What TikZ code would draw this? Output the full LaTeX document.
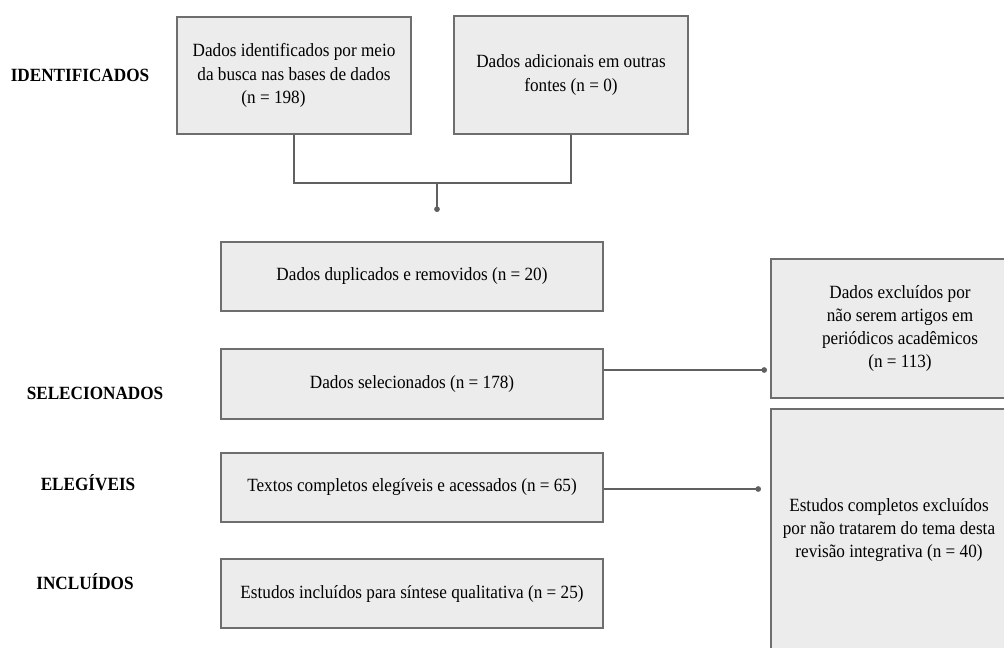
\documentclass[tikz,border=0pt]{standalone}
\usepackage{fontspec}
\setmainfont{Liberation Serif}[FakeStretch=0.92]
\usepackage{tikz}
\usetikzlibrary{arrows.meta,positioning}
\definecolor{boxfill}{HTML}{ECECEC}
\definecolor{boxline}{HTML}{6E6E6E}
\definecolor{linkline}{HTML}{606060}
\tikzset{stage/.style={draw=boxline, line width=1pt, fill=boxfill, align=center, inner sep=2pt,
    font=\fontsize{14}{17.5}\selectfont},
  phase/.style={font=\fontsize{14}{17.5}\selectfont\bfseries},
  link/.style={draw=linkline, line width=0.8pt},
  dotend/.style={-{Circle[length=4.2pt]}}}

\begin{document}
\begin{tikzpicture}[x=0.75pt,y=-0.75pt]
      \useasboundingbox (0,0) rectangle (1004,648);
      \node [phase] (ident) at (80,75) {IDENTIFICADOS};
      \node [phase] (selec) at (95,393) {SELECIONADOS};
      \node [phase] (eleg) at (88,483) {ELEGÍVEIS};
      \node [phase] (incl) at (85,582) {INCLUÍDOS};

      \node [stage, minimum width=175.5pt, minimum height=87.75pt] (busca) at (294,75.5) {Dados identificados por meio\\da busca nas bases de dados\\(n = 198)\hspace*{2.2em}};
      \node [stage, minimum width=175.5pt, minimum height=88.5pt] (outras) at (571,75) {Dados adicionais em outras\\fontes (n = 0)};
      \node [stage, minimum width=286.5pt, minimum height=51.75pt] (dupl) at (412,276.5) {Dados duplicados e removidos (n = 20)};
      \node [stage, minimum width=286.5pt, minimum height=52.5pt] (sel) at (412,384) {Dados selecionados (n = 178)};
      \node [stage, minimum width=286.5pt, minimum height=51.75pt] (texto) at (412,487.5) {Textos completos elegíveis e acessados (n = 65)};
      \node [stage, minimum width=286.5pt, minimum height=51.75pt] (inclu) at (412,593.5) {Estudos incluídos para síntese qualitativa (n = 25)};
      \node [stage, minimum width=193.5pt, minimum height=104.25pt] (excl) at (900,328.5) {Dados excluídos por\\não serem artigos em\\periódicos acadêmicos\\(n = 113)};
      \node [stage, minimum width=177pt, minimum height=181.5pt] (tema) at (889,530) {Estudos completos excluídos\\por não tratarem do tema desta\\revisão integrativa (n = 40)};

      \coordinate (join) at (437,183);
      \coordinate (stub) at (437,212);
      \coordinate (exclin) at (767,370);
      \coordinate (temain) at (761,489);

      \draw [link] (busca.south) |- (join) -| (outras.south);
      \draw [link, dotend] (join) -- (stub);
      \draw [link, dotend] (exclin -| sel.east) -- (exclin);
      \draw [link, dotend] (temain -| texto.east) -- (temain);
    \end{tikzpicture}
\end{document}
